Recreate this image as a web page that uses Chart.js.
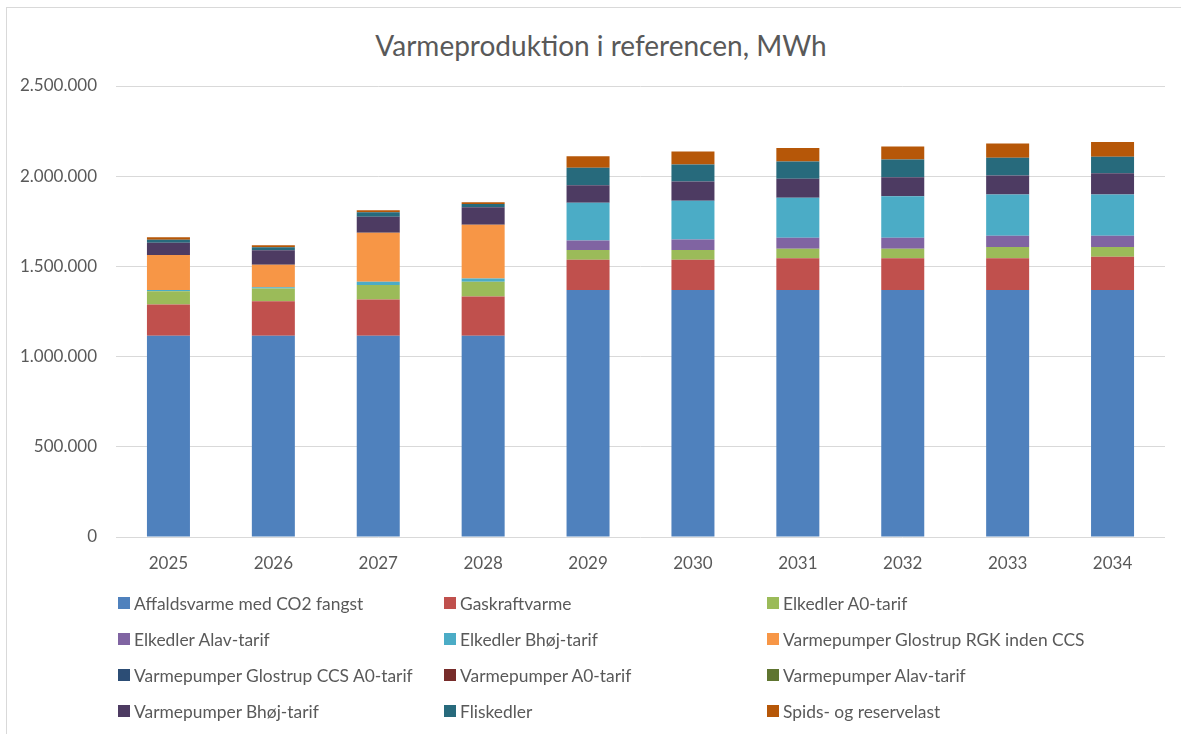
<!DOCTYPE html>
<html>
<head>
<meta charset="utf-8">
<script src="https://cdn.jsdelivr.net/npm/chart.js@4.4.1/dist/chart.umd.min.js"></script>
<style>
  html, body { margin: 0; padding: 0; background: #fff; }
  body { width: 1181px; height: 734px; position: relative; overflow: hidden; font-family: Lato, "Open Sans", sans-serif; color: #595959; }
  .frame { position: absolute; left: 6px; top: 7px; width: 1200px; height: 800px; border-top: 1px solid #d9d9d9; border-left: 1px solid #d9d9d9; }
  .title { position: absolute; left: 6px; width: 1190px; top: 31px; text-align: center; font-size: 28px; line-height: 28px; }
  #wrap { position: absolute; left: 0; top: 0; width: 1181px; height: 734px; }
  .legend { position: absolute; left: 0; top: 0; }
  .item { position: absolute; display: flex; align-items: center; font-size: 17.4px; white-space: nowrap; }
  .item span { display: inline-block; width: 12px; height: 12px; margin-right: 4px; }
</style>
</head>
<body>
<div class="frame"></div>
<div class="title">Varmeproduktion i referencen, MWh</div>
<div id="wrap"><canvas id="chart"></canvas></div>
<div class="legend" id="legend"></div>
<script>
const years = ["2025", "2026", "2027", "2028", "2029", "2030", "2031", "2032", "2033", "2034"];

// MWh per år
const affaldsvarme = [1115000, 1115000, 1115000, 1115000, 1369000, 1369000, 1369000, 1369000, 1369000, 1369000];
const gaskraft = [173500, 192000, 201000, 218000, 168000, 168000, 175500, 175500, 175500, 184500];
const elkedlerA0 = [74000, 70000, 81000, 81500, 53600, 53600, 53000, 53000, 62600, 53600];
const elkedlerAlav = [0, 0, 0, 0, 53600, 59000, 61000, 61000, 62600, 62600];
const elkedlerBhoj = [7000, 7500, 18000, 18000, 208000, 214000, 222000, 231000, 229500, 229500];
const vpGlostrupRGK = [194000, 125000, 272000, 299000, 0, 0, 0, 0, 0, 0];
const vpGlostrupCCS = [0, 0, 0, 0, 0, 0, 0, 0, 0, 0];
const vpA0 = [0, 0, 0, 0, 0, 0, 0, 0, 0, 0];
const vpAlav = [0, 0, 0, 0, 0, 0, 0, 0, 0, 0];
const vpBhoj = [68000, 80000, 88700, 96000, 98000, 107500, 105000, 105000, 105000, 116500];
const fliskedler = [16600, 16600, 24000, 18500, 96000, 94000, 96500, 98000, 97500, 92000];
const spidslast = [13000, 11000, 11000, 9500, 65000, 72000, 73700, 72000, 80000, 81500];

const yTicks = [0, 500000, 1000000, 1500000, 2000000, 2500000];

const series = [
  ["Affaldsvarme med CO2 fangst", affaldsvarme, "#4f81bd"],
  ["Gaskraftvarme", gaskraft, "#c0504d"],
  ["Elkedler A0-tarif", elkedlerA0, "#9bbb59"],
  ["Elkedler Alav-tarif", elkedlerAlav, "#8064a2"],
  ["Elkedler Bhøj-tarif", elkedlerBhoj, "#4bacc6"],
  ["Varmepumper Glostrup RGK inden CCS", vpGlostrupRGK, "#f79646"],
  ["Varmepumper Glostrup CCS A0-tarif", vpGlostrupCCS, "#2c4d75"],
  ["Varmepumper A0-tarif", vpA0, "#772c2a"],
  ["Varmepumper Alav-tarif", vpAlav, "#5f7530"],
  ["Varmepumper Bhøj-tarif", vpBhoj, "#4d3b62"],
  ["Fliskedler", fliskedler, "#276a7c"],
  ["Spids- og reservelast", spidslast, "#b65708"]
];

const formatNumber = (v) => String(v).replace(/\B(?=(\d{3})+(?!\d))/g, ".");

const datasets = series.map(([label, data, color]) => ({
  label: label,
  data: data,
  backgroundColor: color,
  borderWidth: 0,
  barPercentage: 0.41,
  categoryPercentage: 1
}));

new Chart(document.getElementById("chart"), {
  type: "bar",
  data: { labels: years, datasets: datasets },
  options: {
    responsive: true,
    maintainAspectRatio: false,
    animation: false,
    layout: { padding: { top: 86, right: 16, bottom: 157, left: 0 } },
    plugins: { legend: { display: false }, tooltip: { enabled: false } },
    scales: {
      x: {
        stacked: true,
        grid: { display: false },
        border: { display: false },
        ticks: { color: "#595959", font: { family: "Lato", size: 17 }, padding: 8 },
        afterFit: (scale) => { scale.height = 40; }
      },
      y: {
        stacked: true,
        min: 0,
        max: 2500000,
        afterBuildTicks: (scale) => { scale.ticks = yTicks.map((v) => ({ value: v })); },
        grid: { color: "#d9d9d9", lineWidth: 1, drawTicks: false },
        border: { display: false },
        ticks: {
          color: "#595959",
          font: { family: "Lato", size: 17 },
          padding: 19,
          callback: (v) => formatNumber(v)
        },
        afterFit: (scale) => { scale.width = 116; }
      }
    }
  }
});

// legend in three columns like the original
const legendEl = document.getElementById("legend");
const colX = [118, 444, 767];
const rowY = [603, 639, 675, 711];
series.forEach(([label, data, color], i) => {
  const item = document.createElement("div");
  item.className = "item";
  item.style.left = colX[i % 3] + "px";
  item.style.top = (rowY[Math.floor(i / 3)] - 12) + "px";
  item.style.height = "24px";
  item.innerHTML = '<span style="background:' + color + '"></span>' + label;
  legendEl.appendChild(item);
});
</script>
</body>
</html>
